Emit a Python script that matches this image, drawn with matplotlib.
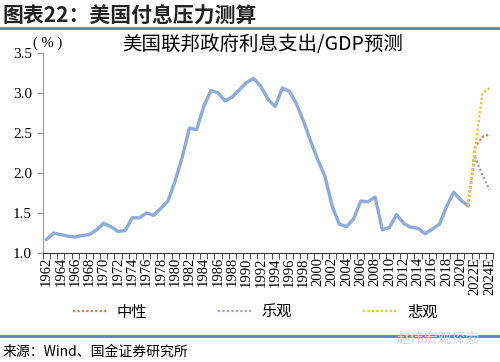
import matplotlib
matplotlib.use("Agg")
import matplotlib.pyplot as plt
from matplotlib.lines import Line2D

plt.rcParams['font.family'] = ['Noto Sans CJK SC', 'DejaVu Sans']

# historical interest outlays / GDP, 1962-2021
hist_years = list(range(1962, 2022))
hist_values = [1.17, 1.25, 1.23, 1.21, 1.20, 1.22, 1.23, 1.29, 1.37, 1.33,
               1.27, 1.28, 1.44, 1.44, 1.50, 1.47, 1.56, 1.65, 1.90, 2.20,
               2.56, 2.54, 2.83, 3.03, 3.00, 2.90, 2.95, 3.04, 3.13, 3.18,
               3.08, 2.92, 2.83, 3.06, 3.02, 2.86, 2.64, 2.39, 2.16, 1.95,
               1.58, 1.36, 1.33, 1.43, 1.65, 1.64, 1.70, 1.29, 1.32, 1.48,
               1.37, 1.32, 1.31, 1.24, 1.30, 1.36, 1.58, 1.76, 1.66, 1.59]

# forecast scenarios, 2021-2024E
fc_years = [2021, 2022, 2023, 2024]
neutral = [1.59, 2.32, 2.45, 2.48]
optimistic = [1.59, 2.20, 1.98, 1.79]
pessimistic = [1.59, 2.30, 2.99, 3.06]

all_years = list(range(1962, 2025))
year_labels = [str(y) + ("E" if y >= 2022 else "") for y in all_years]

def pos(years):
    return [y - 1962 for y in years]

fig = plt.figure(figsize=(5, 3.62), dpi=100)
ax = fig.add_axes([0.086, 0.301, 0.9, 0.553])

ax.plot(pos(hist_years), hist_values, color='#8eaad9', lw=2.4, solid_joinstyle='round')
ax.plot(pos(fc_years), neutral, color='#e07b39', lw=1.6, ls=(0, (1, 1)), label='中性')
ax.plot(pos(fc_years), optimistic, color='#a6a6b8', lw=1.6, ls=(0, (1, 1)), label='乐观')
ax.plot(pos(fc_years), pessimistic, color='#f2c12e', lw=1.6, ls=(0, (1, 1)), label='悲观')

serif = ['Liberation Serif', 'DejaVu Serif']
ax.set_ylim(1.0, 3.5)
ax.set_yticks([1.0, 1.5, 2.0, 2.5, 3.0, 3.5])
ax.set_yticklabels(['1.0', '1.5', '2.0', '2.5', '3.0', '3.5'], family=serif, fontsize=11)

n = len(all_years)
ax.set_xlim(-0.5, n - 0.5)
ax.set_xticks([i for i in range(n) if i % 2 == 0])
ax.set_xticklabels([year_labels[i] for i in range(n) if i % 2 == 0],
                   rotation=90, family=serif, fontsize=10.5)
ax.set_xticks([i - 0.5 for i in range(n + 1)], minor=True)
ax.tick_params(axis='x', which='major', length=0, pad=3)
ax.tick_params(axis='x', which='minor', length=4, direction='out', color='#333333')
ax.tick_params(axis='y', length=4, color='#999999', pad=4)

for s in ['top', 'right']:
    ax.spines[s].set_visible(False)
ax.spines['left'].set_color('#999999')
ax.spines['bottom'].set_color('#333333')

ax.legend(loc='center', bbox_to_anchor=(0.51, 0.138), bbox_transform=fig.transFigure,
          ncol=3, frameon=False, fontsize=11, handlelength=2.3, columnspacing=4.6,
          handletextpad=0.6)

# titles and decoration
fig.text(0.006, 0.955, '图表22：美国付息压力测算', fontsize=15, fontweight='bold',
         va='center', ha='left', color='#222222')
fig.add_artist(Line2D([0, 1], [0.923, 0.923], color='#3b8fc4', lw=2))
fig.text(0.525, 0.876, '美国联邦政府利息支出/GDP预测', fontsize=14, ha='center', va='center')
fig.text(0.066, 0.881, '( % )', fontsize=10.5, ha='left', va='center', family=serif)

fig.add_artist(Line2D([0, 1], [0.072, 0.072], color='#3b8fc4', lw=2))
fig.text(0.006, 0.028, '来源：Wind、国金证券研究所', fontsize=10, ha='left', va='center')
fig.text(0.96, 0.065, '赵伟宏观探索', fontsize=10, ha='right', va='center', color='#d8d8d8')

fig.savefig('out.png', dpi=100)
